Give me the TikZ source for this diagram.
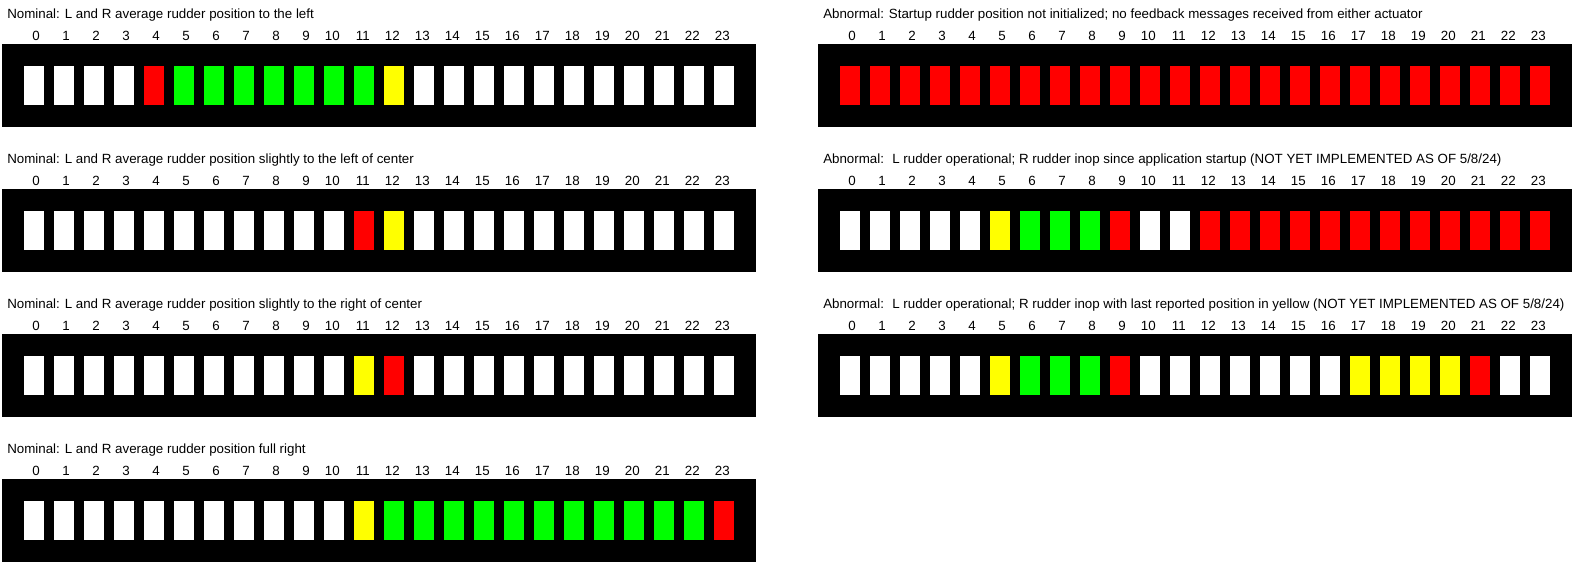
\documentclass[tikz,border=0pt]{standalone}
\usepackage{fontspec}
\setmainfont{Liberation Sans}
\usepackage{tikz}

\definecolor{R}{RGB}{255,0,0}
\definecolor{G}{RGB}{0,255,0}
\definecolor{Y}{RGB}{255,255,0}
\colorlet{W}{white}

\tikzset{
  bar/.style={fill=black, inner sep=0pt, minimum width=565.5pt, minimum height=62.25pt, anchor=north west},
  lamp/.style={inner sep=0pt, minimum width=15pt, minimum height=29.25pt},
  num/.style={inner sep=0pt, anchor=base east, font=\fontsize{10}{12}\selectfont},
  title/.style={inner sep=0pt, anchor=base west, font=\fontsize{10}{12}\selectfont}
}

% #1 name, #2 left, #3 top of the black bar, #4 caption, #5 lamp colours 0..23
\newcommand{\rudderbar}[5]{
  \node[bar] (#1) at (#2,#3) {};
  \node[title] (#1-title) at (#2+5,#3-26) {#4};
  \foreach \c [count=\i from 0] in {#5} {
    \node[num] (#1-n\i) at (#2+38+30*\i,#3-4) {\i};
    \node[lamp, fill=\c] (#1-\i) at (#2+32+30*\i,#3+41.5) {};
  }
}

\begin{document}
\begin{tikzpicture}[x=0.75pt, y=-0.75pt]
        \useasboundingbox (0,0) rectangle (1580,565);

        \rudderbar{left}{2}{44}{Nominal: L and R average rudder position to the left}
          {W,W,W,W,R,G,G,G,G,G,G,G,Y,W,W,W,W,W,W,W,W,W,W,W}
        \rudderbar{slightleft}{2}{189}{Nominal: L and R average rudder position slightly to the left of center}
          {W,W,W,W,W,W,W,W,W,W,W,R,Y,W,W,W,W,W,W,W,W,W,W,W}
        \rudderbar{slightright}{2}{334}{Nominal: L and R average rudder position slightly to the right of center}
          {W,W,W,W,W,W,W,W,W,W,W,Y,R,W,W,W,W,W,W,W,W,W,W,W}
        \rudderbar{fullright}{2}{479}{Nominal: L and R average rudder position full right}
          {W,W,W,W,W,W,W,W,W,W,W,Y,G,G,G,G,G,G,G,G,G,G,G,R}

        \rudderbar{startup}{818}{44}{Abnormal: Startup rudder position not initialized; no feedback messages received from either actuator}
          {R,R,R,R,R,R,R,R,R,R,R,R,R,R,R,R,R,R,R,R,R,R,R,R}
        \rudderbar{inopstart}{818}{189}{Abnormal:\hspace{6.2pt}L rudder operational; R rudder inop since application startup (NOT YET IMPLEMENTED AS OF 5/8/24)}
          {W,W,W,W,W,Y,G,G,G,R,W,W,R,R,R,R,R,R,R,R,R,R,R,R}
        \rudderbar{inoplast}{818}{334}{Abnormal:\hspace{6.2pt}L rudder operational; R rudder inop with last reported position in yellow (NOT YET IMPLEMENTED AS OF 5/8/24)}
          {W,W,W,W,W,Y,G,G,G,R,W,W,W,W,W,W,W,Y,Y,Y,Y,R,W,W}
      \end{tikzpicture}
\end{document}
